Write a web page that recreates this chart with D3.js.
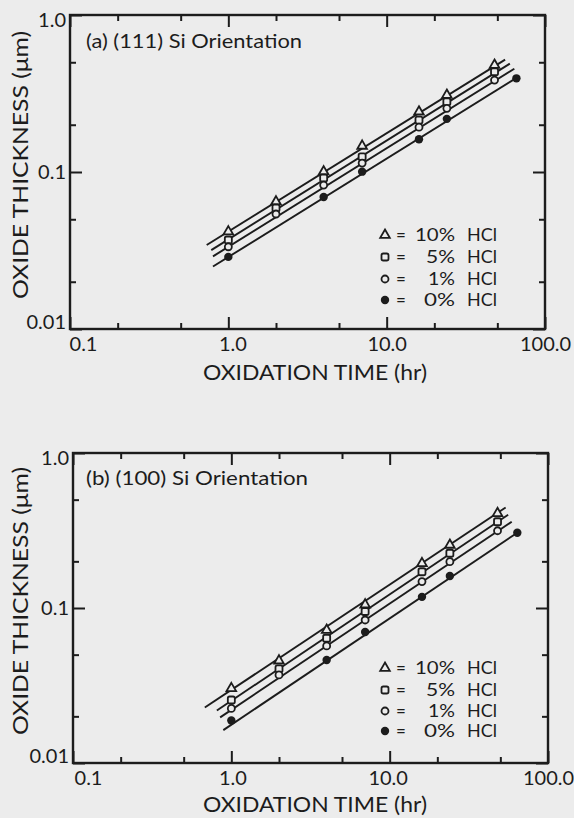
<!DOCTYPE html>
<html><head><meta charset="utf-8">
<script src="https://cdn.jsdelivr.net/npm/d3@7"></script>
<style>
body{margin:0;background:#ececec;}
svg{display:block;background:#ececec;}
text{font-family:Lato,"DejaVu Sans",sans-serif;fill:#1c1c1c;}
</style>
</head><body><svg id="chart" width="574" height="818"></svg>
<script>
// ---------- data ----------
const seriesNames = ["10%", "5%", "1%", "0%"];
const seriesUnit = "HCl";
const seriesSymbols = ["triangle", "square", "circle", "filled"];

const xTickValues = [0.1, 1, 10, 100];
const xTickLabels = ["0.1", "1.0", "10.0", "100.0"];
const xMinorTicks = [0.2, 0.5, 2, 5, 20, 50];
const yTickValues = [0.01, 0.1, 1];
const yTickLabels = ["0.01", "0.1", "1.0"];
const yMinorTicks = [0.02, 0.05, 0.2, 0.5];

const xTitle = "OXIDATION  TIME  (hr)";
const yTitle = "OXIDE  THICKNESS (\u03bcm)";

// Panel (a) (111)
const titleA = "(a)  (111)  Si Orientation";
const timesA = [1, 2, 4, 7, 16, 24, 48];
const a10 = [0.0417, 0.0647, 0.1005, 0.1465, 0.242, 0.309, 0.48];
const a5  = [0.0369, 0.059, 0.0916, 0.125, 0.214, 0.280, 0.435];
const a1  = [0.0334, 0.054, 0.0826, 0.114, 0.193, 0.2545, 0.385];
const times0A = [1, 4, 7, 16, 24, 66];
const a0  = [0.0288, 0.0693, 0.1005, 0.1616, 0.218, 0.395];
const fitXA = [[0.73, 56], [0.78, 60], [0.80, 64], [0.80, 68]];
const fitYA = [[0.0343, 0.52], [0.0318, 0.49], [0.029, 0.455], [0.025, 0.405]];

// Panel (b) (100)
const titleB = "(b)  (100)  Si Orientation";
const timesB = [1, 2, 4, 7, 16, 24, 48];
const b10 = [0.0303, 0.0457, 0.0721, 0.105, 0.194, 0.255, 0.408];
const b5  = [0.0255, 0.0405, 0.0638, 0.0949, 0.1714, 0.2255, 0.36];
const b1  = [0.0225, 0.037, 0.0569, 0.0837, 0.148, 0.199, 0.315];
const times0B = [1, 4, 7, 16, 24, 64];
const b0  = [0.0188, 0.0462, 0.070, 0.118, 0.161, 0.306];
const fitXB = [[0.68, 54], [0.81, 56], [0.85, 59], [0.89, 64]];
const fitYB = [[0.0228, 0.445], [0.0218, 0.40], [0.0197, 0.36], [0.0163, 0.306]];

// ---------- drawing ----------
const svg = d3.select("#chart");
const INK = "#1c1c1c";
const BG = "#ececec";

function drawMarker(g, type, cx, cy) {
  if (type === "triangle") {
    g.append("path").attr("d", d3.symbol(d3.symbolTriangle, 40)())
      .attr("transform", `translate(${cx},${cy})`)
      .attr("fill", BG).attr("stroke", INK).attr("stroke-width", 1.8);
  } else if (type === "square") {
    g.append("rect").attr("x", cx - 3.5).attr("y", cy - 3.5).attr("width", 7).attr("height", 7)
      .attr("rx", 1.8).attr("fill", BG).attr("stroke", INK).attr("stroke-width", 1.8);
  } else if (type === "circle") {
    g.append("circle").attr("cx", cx).attr("cy", cy).attr("r", 3.5)
      .attr("fill", BG).attr("stroke", INK).attr("stroke-width", 1.8);
  } else {
    g.append("circle").attr("cx", cx).attr("cy", cy).attr("r", 4.2).attr("fill", INK);
  }
}

function panel(cfg) {
  const x = d3.scaleLog().domain([0.1, 100]).range([cfg.left, cfg.right]);
  const y = d3.scaleLog().domain([0.01, 1]).range([cfg.bottom, cfg.top]);
  const g = svg.append("g");

  const styleAxis = sel => {
    sel.select(".domain").remove();
    sel.selectAll("line").attr("stroke", INK).attr("stroke-width", 2);
    sel.selectAll("text").attr("fill", INK).style("font-size", "20px")
       .style("font-family", "Lato, 'DejaVu Sans', sans-serif");
  };

  // major + minor ticks, all four sides, pointing inward
  const bottomMaj = g.append("g").attr("transform", `translate(0,${cfg.bottom})`)
    .call(d3.axisBottom(x).tickValues(xTickValues).tickSize(-12).tickPadding(8)
      .tickFormat((d, i) => xTickLabels[i])).call(styleAxis);
  bottomMaj.selectAll("text").attr("dx", (d, i) => cfg.xLabelDx[i]);
  g.append("g").attr("transform", `translate(0,${cfg.bottom})`)
    .call(d3.axisBottom(x).tickValues(xMinorTicks).tickSize(-6).tickFormat("")).call(styleAxis);
  g.append("g").attr("transform", `translate(0,${cfg.top})`)
    .call(d3.axisTop(x).tickValues(xTickValues).tickSize(-12).tickFormat("")).call(styleAxis);
  g.append("g").attr("transform", `translate(0,${cfg.top})`)
    .call(d3.axisTop(x).tickValues(xMinorTicks).tickSize(-6).tickFormat("")).call(styleAxis);

  const leftMaj = g.append("g").attr("transform", `translate(${cfg.left},0)`)
    .call(d3.axisLeft(y).tickValues(yTickValues).tickSize(-12).tickPadding(4)
      .tickFormat((d, i) => yTickLabels[i])).call(styleAxis);
  leftMaj.selectAll("text").attr("dy", (d, i) => ["-0.05em", "0.32em", "0.55em"][i]);
  g.append("g").attr("transform", `translate(${cfg.left},0)`)
    .call(d3.axisLeft(y).tickValues(yMinorTicks).tickSize(-6).tickFormat("")).call(styleAxis);
  g.append("g").attr("transform", `translate(${cfg.right},0)`)
    .call(d3.axisRight(y).tickValues(yTickValues).tickSize(-12).tickFormat("")).call(styleAxis);
  g.append("g").attr("transform", `translate(${cfg.right},0)`)
    .call(d3.axisRight(y).tickValues(yMinorTicks).tickSize(-6).tickFormat("")).call(styleAxis);

  // frame
  g.append("rect").attr("x", cfg.left).attr("y", cfg.top)
    .attr("width", cfg.right - cfg.left).attr("height", cfg.bottom - cfg.top)
    .attr("fill", "none").attr("stroke", INK).attr("stroke-width", 2.4);

  // fit lines
  const line = d3.line().x(d => x(d[0])).y(d => y(d[1]));
  cfg.fitX.forEach((xs, i) => {
    const pts = xs.map((xv, j) => [xv, cfg.fitY[i][j]]);
    g.append("path").attr("d", line(pts)).attr("fill", "none")
      .attr("stroke", INK).attr("stroke-width", 1.9);
  });

  // data points
  const mg = g.append("g");
  cfg.series.forEach((s, i) => {
    s.vals.forEach((v, j) => drawMarker(mg, seriesSymbols[i], x(s.times[j]), y(v)));
  });

  // panel title
  g.append("text").attr("x", 86).attr("y", cfg.titleY).text(cfg.title)
    .style("font-size", "19px").attr("textLength", cfg.titleLen).attr("lengthAdjust", "spacingAndGlyphs");

  // legend
  cfg.legendY.forEach((ly, i) => {
    drawMarker(g, seriesSymbols[i], 385, ly);
    g.append("text").attr("x", 401).attr("y", ly).attr("dy", "0.36em")
      .attr("text-anchor", "middle").style("font-size", "17px").text("=");
    g.append("text").attr("x", 455).attr("y", ly).attr("dy", "0.36em")
      .attr("text-anchor", "end").style("font-size", "17px")
      .attr("textLength", [40, 29, 27, 31][i]).attr("lengthAdjust", "spacingAndGlyphs")
      .text(seriesNames[i]);
    g.append("text").attr("x", 467).attr("y", ly).attr("dy", "0.36em")
      .style("font-size", "17px").attr("textLength", 30).attr("lengthAdjust", "spacingAndGlyphs")
      .text(seriesUnit);
  });

  // axis titles
  g.append("text").attr("x", 315).attr("y", cfg.xTitleY).attr("text-anchor", "middle")
    .style("font-size", "21px").attr("textLength", 224).attr("lengthAdjust", "spacingAndGlyphs")
    .text(xTitle);
  g.append("text").attr("transform", `translate(28,${cfg.yTitleC}) rotate(-90)`)
    .attr("text-anchor", "middle").style("font-size", "21px")
    .attr("textLength", 268).attr("lengthAdjust", "spacingAndGlyphs").text(yTitle);
}

panel({
  left: 70, right: 545, top: 15, bottom: 329,
  xLabelDx: [13, 4, 0, 0],
  fitX: fitXA, fitY: fitYA,
  series: [{times: timesA, vals: a10}, {times: timesA, vals: a5}, {times: timesA, vals: a1}, {times: times0A, vals: a0}],
  title: titleA, titleY: 48, titleLen: 216,
  legendY: [235, 257, 279, 300],
  xTitleY: 380, yTitleC: 165
});
panel({
  left: 73, right: 548, top: 453, bottom: 763,
  xLabelDx: [15, 1, -2, 0],
  fitX: fitXB, fitY: fitYB,
  series: [{times: timesB, vals: b10}, {times: timesB, vals: b5}, {times: timesB, vals: b1}, {times: times0B, vals: b0}],
  title: titleB, titleY: 485, titleLen: 222,
  legendY: [668, 690, 711, 731],
  xTitleY: 812, yTitleC: 601
});
</script>
</body></html>
